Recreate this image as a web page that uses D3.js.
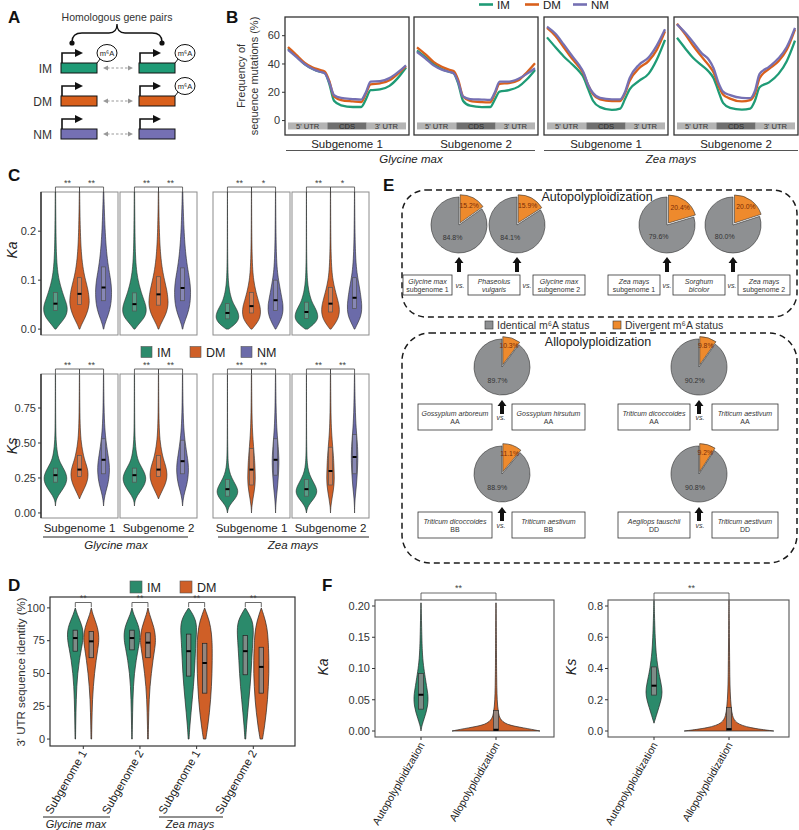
<!DOCTYPE html>
<html><head><meta charset="utf-8">
<script src="https://cdn.jsdelivr.net/npm/d3@7"></script>
<style>body{margin:0;background:#fff}svg{display:block;font-family:"Liberation Sans",Arial,Helvetica,sans-serif}</style>
</head><body><svg id="c" width="799" height="830"></svg>
<script>
// ================= DATA =================
const groups = ["IM","DM","NM"];
// Panel A: m6A presence on [left gene, right gene]
const aM6A = {IM:[true,true], DM:[false,true], NM:[false,false]};

// Panel B: mutation frequency (%) along gene body (fraction of length)
const bXFrac = [0,0.07,0.14,0.21,0.27,0.31,0.35,0.39,0.45,0.55,0.62,0.66,0.70,0.78,0.86,0.93,1.0];
const bGlyS1 = {
  IM:[51,45.5,40,36.5,34.5,33.8,26,14,10.8,9.6,9.6,15,21.5,22,24.5,30,37.5],
  DM:[52,46.5,41,37.5,35.8,34.7,28,17,14.5,13.5,13,19,25.5,26.3,28.5,33,38.5],
  NM:[50,45,40,36.5,34.5,33.5,27,18,16,15.2,14.8,20,27.5,27.8,30,34,39]};
const bGlyS2 = {
  IM:[49.5,45,40,36.5,34.5,33.5,26,14,10.5,9.5,9.6,15,20.5,21.5,24,29,35.8],
  DM:[51.8,47,41.5,38,36,35,28.5,17,14,13,12.8,19,26,26.5,28.5,34,40.5],
  NM:[48.5,44,39,36,34.5,33.5,27,17,15.2,14.8,14.6,20,27.5,27.5,29.5,33,37]};
const bZeaS1 = {
  IM:[58.8,52,45.5,40,35,30.5,22,14,9.5,7.5,8.5,15,22,28,33,43,57],
  DM:[65.5,60,52,44,38,33,25,18.5,15,13.8,13.8,19,28,37,42,50,63],
  NM:[66.4,61.5,54,46,39.5,34,25,19.5,16,15,15,20,30,39.5,44.5,53,64.5]};
const bZeaS2 = {
  IM:[58.5,51,44,39,34.5,30,21,12.5,9,7.8,8.5,14,23.5,27,33,42,56.5],
  DM:[68.5,61,52.5,45,39,34,25,18.5,15.5,13.5,14.5,19,30,36.5,42,50,64.5],
  NM:[68,62,55,47.5,43,37,27,20.5,18,16,15.8,21,33,38,44,52,65.5]};
const bSubLabels = ["Subgenome 1","Subgenome 2","Subgenome 1","Subgenome 2"];
const bRegions = ["5' UTR","CDS","3' UTR"];
const bTicks = [0,20,40,60];
const species = ["Glycine max","Zea mays"];

// Panel C: violin density profiles (relative width) on value grids; boxes [q1, median, q3]
const kaGrid = [0,0.01,0.02,0.03,0.04,0.05,0.06,0.08,0.10,0.12,0.15,0.20,0.28];
const kaGlyS1 = {IM:[0.05,0.35,0.7,0.93,1.0,0.95,0.8,0.52,0.3,0.17,0.08,0.04,0.015],
                 DM:[0.03,0.18,0.4,0.58,0.72,0.8,0.82,0.72,0.5,0.32,0.16,0.06,0.015],
                 NM:[0.02,0.1,0.25,0.4,0.52,0.6,0.65,0.68,0.6,0.45,0.27,0.12,0.02]};
const kaGlyS2 = {IM:[0.05,0.35,0.72,0.95,1.0,0.93,0.78,0.5,0.3,0.17,0.08,0.04,0.015],
                 DM:[0.03,0.18,0.4,0.6,0.73,0.8,0.8,0.7,0.5,0.33,0.17,0.06,0.015],
                 NM:[0.02,0.1,0.25,0.4,0.52,0.6,0.65,0.68,0.6,0.45,0.27,0.11,0.02]};
const kaZeaS1 = {IM:[0.1,0.65,0.95,0.95,0.78,0.55,0.35,0.15,0.07,0.04,0.02,0.01,0.005],
                 DM:[0.05,0.38,0.65,0.75,0.75,0.68,0.55,0.33,0.18,0.1,0.05,0.02,0.008],
                 NM:[0.03,0.25,0.45,0.58,0.63,0.62,0.55,0.4,0.25,0.14,0.07,0.03,0.008]};
const kaZeaS2 = {IM:[0.1,0.62,0.95,0.95,0.8,0.58,0.38,0.17,0.08,0.045,0.02,0.01,0.005],
                 DM:[0.05,0.35,0.6,0.72,0.75,0.7,0.6,0.38,0.2,0.11,0.05,0.02,0.008],
                 NM:[0.03,0.22,0.42,0.55,0.6,0.6,0.56,0.45,0.3,0.17,0.08,0.03,0.008]};
const kaBoxGlyS1 = {IM:[0.038,0.052,0.075], DM:[0.05,0.072,0.105], NM:[0.058,0.085,0.127]};
const kaBoxGlyS2 = {IM:[0.037,0.051,0.074], DM:[0.049,0.071,0.107], NM:[0.058,0.084,0.125]};
const kaBoxZeaS1 = {IM:[0.021,0.033,0.052], DM:[0.033,0.047,0.075], NM:[0.038,0.059,0.1]};
const kaBoxZeaS2 = {IM:[0.022,0.035,0.055], DM:[0.035,0.052,0.085], NM:[0.042,0.064,0.105]};
const kaStars = [["**","**"],["**","**"],["**","*"],["**","*"]];
const kaTicks = [0,0.1,0.2];

const ksGrid = [0,0.05,0.1,0.15,0.2,0.25,0.3,0.35,0.4,0.5,0.6,0.75,0.99];
const ksGlyS1 = {IM:[0,0,0.05,0.45,0.85,1.0,0.8,0.45,0.2,0.06,0.03,0.015,0.01],
                 DM:[0,0,0,0.25,0.55,0.72,0.72,0.55,0.35,0.14,0.06,0.025,0.01],
                 NM:[0,0,0.05,0.18,0.35,0.45,0.5,0.48,0.4,0.22,0.1,0.035,0.01]};
const ksGlyS2 = {IM:[0,0,0.05,0.45,0.85,1.0,0.78,0.43,0.2,0.06,0.03,0.015,0.01],
                 DM:[0,0,0,0.25,0.55,0.72,0.7,0.55,0.35,0.14,0.06,0.025,0.01],
                 NM:[0,0,0.05,0.18,0.35,0.45,0.5,0.48,0.4,0.22,0.1,0.035,0.01]};
const ksZeaS1 = {IM:[0,0.1,0.65,0.95,0.7,0.35,0.15,0.07,0.04,0.02,0.012,0.008,0.005],
                 DM:[0,0.03,0.12,0.22,0.3,0.32,0.3,0.28,0.24,0.15,0.07,0.03,0.01],
                 NM:[0,0.02,0.06,0.12,0.18,0.22,0.26,0.28,0.28,0.2,0.1,0.04,0.01]};
const ksZeaS2 = {IM:[0,0.1,0.62,0.95,0.72,0.38,0.16,0.08,0.04,0.02,0.012,0.008,0.005],
                 DM:[0,0.03,0.12,0.22,0.3,0.32,0.3,0.28,0.25,0.16,0.07,0.03,0.01],
                 NM:[0,0.01,0.04,0.1,0.16,0.2,0.24,0.26,0.28,0.24,0.13,0.05,0.01]};
const ksBoxGlyS1 = {IM:[0.22,0.27,0.32], DM:[0.26,0.31,0.41], NM:[0.28,0.38,0.53]};
const ksBoxGlyS2 = {IM:[0.22,0.27,0.32], DM:[0.26,0.31,0.41], NM:[0.28,0.37,0.52]};
const ksBoxZeaS1 = {IM:[0.12,0.17,0.24], DM:[0.2,0.31,0.46], NM:[0.27,0.38,0.53]};
const ksBoxZeaS2 = {IM:[0.12,0.17,0.24], DM:[0.2,0.30,0.47], NM:[0.28,0.40,0.56]};
const ksStars = [["**","**"],["**","**"],["**","**"],["**","**"]];
const ksTicks = [0,0.25,0.5,0.75];

// Panel D: 3' UTR identity
const dGroups = ["IM","DM"];
const dCats = ["Gly1","Gly2","Zea1","Zea2"];
const dCatLabels = ["Subgenome 1","Subgenome 2","Subgenome 1","Subgenome 2"];
const dGrid = [0,10,20,30,40,50,60,70,75,80,85,90,95,100];
const dGly1 = {IM:[0.03,0.05,0.08,0.12,0.18,0.3,0.5,0.8,0.95,1.0,0.9,0.6,0.25,0],
               DM:[0.04,0.06,0.1,0.15,0.25,0.4,0.6,0.85,0.95,0.92,0.78,0.5,0.2,0]};
const dGly2 = {IM:[0.03,0.05,0.08,0.12,0.18,0.3,0.52,0.82,0.97,1.0,0.88,0.58,0.22,0],
               DM:[0.04,0.06,0.1,0.15,0.25,0.42,0.62,0.88,0.95,0.9,0.75,0.48,0.2,0]};
const dZea1 = {IM:[0.05,0.15,0.3,0.45,0.6,0.72,0.8,0.88,0.92,0.97,1.0,0.9,0.55,0],
               DM:[0.15,0.4,0.6,0.75,0.85,0.92,0.95,0.95,0.92,0.86,0.75,0.58,0.3,0]};
const dZea2 = {IM:[0.05,0.15,0.3,0.45,0.6,0.72,0.8,0.9,0.95,1.0,1.0,0.88,0.5,0],
               DM:[0.15,0.42,0.62,0.78,0.88,0.95,0.95,0.9,0.86,0.8,0.7,0.52,0.28,0]};
const dBoxes = {Gly1:{IM:[67,77,83],DM:[62,74.5,82]}, Gly2:{IM:[68,77,83],DM:[62,73.5,81]},
                Zea1:{IM:[48,67,80],DM:[35,58,73]}, Zea2:{IM:[49,67,79],DM:[35,55,70]}};
const dTicks = [0,25,50,75,100];

// Panel E: divergent m6A status (%)
const autoDiv = [15.2,15.9,20.4,20.0];
const alloDiv = [10.3,9.8,11.1,9.2];
const autoBoxes = [["Glycine max","subgenome 1",false],["Phaseolus","vulgaris",true],["Glycine max","subgenome 2",false],
                   ["Zea mays","subgenome 1",false],["Sorghum","bicolor",true],["Zea mays","subgenome 2",false]];
const alloBoxes = [["Gossypium arboreum","AA"],["Gossypium hirsutum","AA"],["Triticum dicoccoides","AA"],["Triticum aestivum","AA"],
                   ["Triticum dicoccoides","BB"],["Triticum aestivum","BB"],["Aegilops tauschii","DD"],["Triticum aestivum","DD"]];

// Panel F
const fCats = ["Autopolyploidization","Allopolyploidization"];
const fKaGrid = [0,0.005,0.01,0.02,0.03,0.04,0.05,0.06,0.07,0.08,0.1,0.12,0.15,0.205];
const fKaAuto = [0,0.06,0.15,0.4,0.65,0.82,0.9,0.85,0.72,0.6,0.35,0.18,0.1,0.02];
const fKaAllo = [5.5,3.5,1.2,0.45,0.3,0.2,0.15,0.12,0.1,0.09,0.07,0.06,0.05,0.02];
const fKsGrid = [0,0.02,0.05,0.1,0.15,0.2,0.25,0.3,0.35,0.4,0.5,0.6,0.7,0.835];
const fKsAuto = [0,0,0,0.3,0.6,0.9,1.05,0.9,0.7,0.5,0.25,0.15,0.08,0.02];
const fKsAllo = [5.6,2.5,0.8,0.4,0.28,0.2,0.15,0.12,0.1,0.09,0.07,0.05,0.04,0.02];
const fKaBox = {Auto:[0.035,0.058,0.092], Allo:[0.001,0.002,0.033]};
const fKsBox = {Auto:[0.23,0.29,0.41], Allo:[0.003,0.012,0.15]};
const fKaTicks = [0,0.05,0.1,0.15,0.2];
const fKsTicks = [0,0.2,0.4,0.6,0.8];

// ================= STYLE =================
const lineCol = {IM:"#1f9b76", DM:"#d9601c", NM:"#7570b3"};
const vCol = {IM:"#2b8a6b", DM:"#cf5f27", NM:"#6b6ba9"};
const svg = d3.select("#c");

function T(g,x,y,s,o={}){
  const t=g.append("text").attr("x",x).attr("y",y).text(s)
    .attr("font-size",o.size||11).attr("fill",o.fill||"#222")
    .attr("text-anchor",o.anchor||"start");
  if(o.italic) t.attr("font-style","italic");
  if(o.bold) t.attr("font-weight","bold");
  if(o.rotate!=null) t.attr("transform",`rotate(${o.rotate},${x},${y})`);
  return t;
}
function violin(g,cx,ys,grid,w,half,fill,sw){
  let pts=grid.map((v,i)=>[v,w[i]]);
  let s=0; while(s<pts.length-1 && pts[s][1]===0 && pts[s+1][1]===0) s++;
  pts=pts.slice(s);
  const area=d3.area().curve(d3.curveBasis)
    .y(d=>ys(d[0])).x0(d=>cx-d[1]*half).x1(d=>cx+d[1]*half);
  g.append("path").attr("d",area(pts)).attr("fill",fill)
   .attr("stroke","#262626").attr("stroke-width",sw||0.6);
}
function boxplot(g,cx,ys,b,bw,fill,stroke){
  g.append("rect").attr("x",cx-bw/2).attr("width",bw).attr("y",ys(b[2])).attr("height",ys(b[0])-ys(b[2]))
   .attr("fill",fill).attr("stroke",stroke).attr("stroke-width",0.7);
  g.append("line").attr("x1",cx-bw/2).attr("x2",cx+bw/2).attr("y1",ys(b[1])).attr("y2",ys(b[1]))
   .attr("stroke","#000").attr("stroke-width",2);
}
function yAxis(g,x,ys,ticks,fmt,size){
  ticks.forEach(t=>{
    g.append("line").attr("x1",x-3).attr("x2",x).attr("y1",ys(t)).attr("y2",ys(t)).attr("stroke","#333");
    T(g,x-5,ys(t)+3.8,fmt(t),{size:size||11,anchor:"end",fill:"#333"});
  });
}
function bracket(g,x1,x2,y,yb,star,sy){
  g.append("path").attr("d",`M${x1},${yb}V${y}H${x2}V${yb}`).attr("fill","none").attr("stroke","#444").attr("stroke-width",0.8);
  T(g,(x1+x2)/2,sy,star,{size:9,anchor:"middle",fill:"#444"});
}

// ================= PANEL LETTERS =================
[["A",8,23],["B",226,23],["C",8,181],["D",8,591],["E",383,191],["F",322,591]]
  .forEach(l=>T(svg,l[1],l[2],l[0],{size:17,bold:true,fill:"#111"}));

// ================= PANEL A =================
{
  const g=svg.append("g");
  T(g,117,21,"Homologous gene pairs",{size:10.5,anchor:"middle",fill:"#333"});
  g.append("path").attr("d","M72,42 Q72,33 82,33 L109,33 Q117,33 117,24 Q117,33 125,33 L152,33 Q162,33 162,42")
   .attr("fill","none").attr("stroke","#111").attr("stroke-width",1.3);
  [72,162].forEach(x=>g.append("circle").attr("cx",x).attr("cy",43).attr("r",2.6).attr("fill","#111"));
  const rowTop={IM:63,DM:96,NM:129};
  groups.forEach(k=>{
    const top=rowTop[k];
    T(g,52,top+10,k,{size:12,anchor:"end",fill:"#333"});
    [61,139].forEach((bx,j)=>{
      g.append("rect").attr("x",bx).attr("y",top).attr("width",36).attr("height",10)
        .attr("fill",lineCol[k]).attr("stroke","#111").attr("stroke-width",1);
      g.append("path").attr("d",`M${bx+1},${top} V${top-10} H${bx+15}`).attr("fill","none").attr("stroke","#111").attr("stroke-width",1.6);
      g.append("path").attr("d",`M${bx+14},${top-14} L${bx+22},${top-10} L${bx+14},${top-6} Z`).attr("fill","#111");
      if(aM6A[k][j]){
        g.append("line").attr("x1",bx+36).attr("y1",top).attr("x2",bx+39.5).attr("y2",top-4.5).attr("stroke","#111").attr("stroke-width",1);
        g.append("ellipse").attr("cx",bx+46).attr("cy",top-10).attr("rx",10).attr("ry",8.5)
          .attr("fill","#fff").attr("stroke","#111").attr("stroke-width",1);
        T(g,bx+46,top-7.5,"m⁶A",{size:7.5,anchor:"middle",fill:"#222"});
      }
    });
    const cy=top+5;
    g.append("line").attr("x1",107).attr("x2",129).attr("y1",cy).attr("y2",cy)
      .attr("stroke","#999").attr("stroke-width",1.1).attr("stroke-dasharray","2.5,2");
    g.append("path").attr("d",`M103,${cy} L108,${cy-2.5} L108,${cy+2.5}Z M133,${cy} L128,${cy-2.5} L128,${cy+2.5}Z`).attr("fill","#999");
  });
}

// ================= PANEL B =================
{
  const g=svg.append("g");
  const bLeft=[285,414,544,674], bW=124, bTop=17, bBot=135;
  const by=d3.scaleLinear().domain([-10.2,73.2]).range([bBot,bTop]);
  [bGlyS1,bGlyS2,bZeaS1,bZeaS2].forEach((pd,i)=>{
    const x=d3.scaleLinear().domain([0,1]).range([bLeft[i]+3,bLeft[i]+bW-3]);
    g.append("rect").attr("x",bLeft[i]).attr("y",bTop).attr("width",bW).attr("height",bBot-bTop)
      .attr("fill","#fff").attr("stroke","#333").attr("stroke-width",1.3);
    bRegions.forEach((r,j)=>{
      const x0=x(j/3),x1=x((j+1)/3);
      g.append("rect").attr("x",x0).attr("width",x1-x0).attr("y",by(-3.8)-3.5).attr("height",7)
        .attr("fill",j===1?"#6f6f6f":"#b4b4b4");
      T(g,(x0+x1)/2,by(-3.8)+2.8,r,{size:7.6,anchor:"middle",fill:j===1?"#2a2a2a":"#333"});
    });
    groups.forEach(k=>{
      g.append("path").attr("d",d3.line().x((d,j)=>x(bXFrac[j])).y(d=>by(d)).curve(d3.curveMonotoneX)(pd[k]))
        .attr("fill","none").attr("stroke",lineCol[k]).attr("stroke-width",2.3);
    });
    T(g,bLeft[i]+bW/2,147.5,bSubLabels[i],{size:11.5,anchor:"middle",fill:"#222"});
  });
  yAxis(g,bLeft[0],by,bTicks,d=>String(d),11);
  T(g,245,76,"Frequency of",{size:11,anchor:"middle",rotate:-90,fill:"#333"});
  T(g,258,76,"sequence mutations (%)",{size:11,anchor:"middle",rotate:-90,fill:"#333"});
  g.append("line").attr("x1",286).attr("x2",535).attr("y1",150.5).attr("y2",150.5).attr("stroke","#555");
  g.append("line").attr("x1",544).attr("x2",798).attr("y1",150.5).attr("y2",150.5).attr("stroke","#555");
  T(g,411,163,species[0],{size:11.5,anchor:"middle",italic:true,fill:"#222"});
  T(g,671,163,species[1],{size:11.5,anchor:"middle",italic:true,fill:"#222"});
  const lx=[479,525,573];
  groups.forEach((k,i)=>{
    g.append("line").attr("x1",lx[i]).attr("x2",lx[i]+14).attr("y1",4.5).attr("y2",4.5).attr("stroke",lineCol[k]).attr("stroke-width",2.6);
    T(g,lx[i]+18,8.8,k,{size:11.5,fill:"#222"});
  });
}

// ================= PANEL C =================
{
  const g=svg.append("g");
  const cLeft=[41,120,213,292], cW=77;
  const rows=[
    {grid:kaGrid, data:[kaGlyS1,kaGlyS2,kaZeaS1,kaZeaS2], box:[kaBoxGlyS1,kaBoxGlyS2,kaBoxZeaS1,kaBoxZeaS2],
     stars:kaStars, top:192, bot:335, dom:[-0.012,0.28], ticks:kaTicks, fmt:d3.format(".1f"), lab:"Ka", laby:250, by:187, sy:186},
    {grid:ksGrid, data:[ksGlyS1,ksGlyS2,ksZeaS1,ksZeaS2], box:[ksBoxGlyS1,ksBoxGlyS2,ksBoxZeaS1,ksBoxZeaS2],
     stars:ksStars, top:374, bot:518, dom:[-0.036,0.993], ticks:ksTicks, fmt:d3.format(".2f"), lab:"Ks", laby:446, by:369, sy:368}
  ];
  rows.forEach(r=>{
    const ys=d3.scaleLinear().domain(r.dom).range([r.bot,r.top]);
    cLeft.forEach((L,i)=>{
      const xs=d3.scalePoint().domain(groups).range([L,L+cW]).padding(0.6);
      g.append("rect").attr("x",L).attr("y",r.top).attr("width",cW).attr("height",r.bot-r.top)
        .attr("fill","#fff").attr("stroke","#8c8c8c").attr("stroke-width",1);
      groups.forEach(k=>{
        violin(g,xs(k),ys,r.grid,r.data[i][k],12,vCol[k],0.6);
        boxplot(g,xs(k),ys,r.box[i][k],4,"rgba(220,220,220,0.25)","#555");
      });
      bracket(g,xs("IM"),xs("DM"),r.by,r.top,r.stars[i][0],r.sy);
      bracket(g,xs("DM"),xs("NM"),r.by,r.top,r.stars[i][1],r.sy);
    });
    g.append("line").attr("x1",41).attr("x2",41).attr("y1",r.top).attr("y2",r.bot).attr("stroke","#111").attr("stroke-width",1.2);
    yAxis(g,41,ys,r.ticks,r.fmt,11);
    T(g,17,r.laby,r.lab,{size:14,anchor:"middle",italic:true,rotate:-90,fill:"#222"});
  });
  const lgx=[141,190,241];
  groups.forEach((k,i)=>{
    g.append("rect").attr("x",lgx[i]).attr("y",346.5).attr("width",11).attr("height",11)
      .attr("fill",vCol[k]).attr("stroke","#555").attr("stroke-width",0.6);
    T(g,lgx[i]+16,356.5,k,{size:12.5,fill:"#222"});
  });
  cLeft.forEach((L,i)=>T(g,L+cW/2,532,bSubLabels[i],{size:11.5,anchor:"middle",fill:"#222"}));
  g.append("line").attr("x1",43).attr("x2",188).attr("y1",537).attr("y2",537).attr("stroke","#222");
  g.append("line").attr("x1",218).attr("x2",369).attr("y1",537).attr("y2",537).attr("stroke","#222");
  T(g,116,549,species[0],{size:11.5,anchor:"middle",italic:true,fill:"#222"});
  T(g,293,549,species[1],{size:11.5,anchor:"middle",italic:true,fill:"#222"});
}

// ================= PANEL D =================
{
  const g=svg.append("g");
  const L=50,R=295,top=597,bot=746;
  const ys=d3.scaleLinear().domain([-5.3,108.3]).range([bot,top]);
  const xs=d3.scalePoint().domain(dCats).range([83.3,253.3]);
  g.append("rect").attr("x",L).attr("y",top).attr("width",R-L).attr("height",bot-top)
    .attr("fill","#fff").attr("stroke","#333").attr("stroke-width",1.2);
  const dd={Gly1:dGly1,Gly2:dGly2,Zea1:dZea1,Zea2:dZea2};
  dCats.forEach((c,i)=>{
    dGroups.forEach((k,j)=>{
      const cx=xs(c)+(j===0?-8:8);
      violin(g,cx,ys,dGrid,dd[c][k],8,vCol[k],0.7);
      boxplot(g,cx,ys,dBoxes[c][k],4.5,"rgba(140,140,140,0.85)","#222");
    });
    bracket(g,xs(c)-8,xs(c)+8,602.5,607,"**",600.5);
    g.append("line").attr("x1",xs(c)).attr("x2",xs(c)).attr("y1",bot).attr("y2",bot+3).attr("stroke","#333");
    T(g,xs(c)+4,bot+7,dCatLabels[i],{size:11.5,anchor:"end",rotate:-60,fill:"#222"});
  });
  yAxis(g,L,ys,dTicks,d=>String(d),11);
  T(g,25,672,"3' UTR sequence identity (%)",{size:11.5,anchor:"middle",rotate:-90,fill:"#333"});
  g.append("line").attr("x1",43).attr("x2",110).attr("y1",817).attr("y2",817).attr("stroke","#222");
  g.append("line").attr("x1",159).attr("x2",223).attr("y1",817).attr("y2",817).attr("stroke","#222");
  T(g,76,828,species[0],{size:11,anchor:"middle",italic:true,fill:"#222"});
  T(g,190,828,species[1],{size:11,anchor:"middle",italic:true,fill:"#222"});
  [[130,"IM"],[180,"DM"]].forEach(([x,k])=>{
    g.append("rect").attr("x",x).attr("y",581).attr("width",12).attr("height",12)
      .attr("fill",vCol[k]).attr("stroke","#555").attr("stroke-width",0.6);
    T(g,x+17,591.5,k,{size:12.5,fill:"#222"});
  });
}

// ================= PANEL E =================
{
  const g=svg.append("g");
  const ink="#1a1a1a";
  g.append("rect").attr("x",402).attr("y",190).attr("width",395).attr("height",127).attr("rx",24)
    .attr("fill","none").attr("stroke",ink).attr("stroke-width",1.5).attr("stroke-dasharray","6,4");
  g.append("rect").attr("x",402).attr("y",333).attr("width",395).attr("height",230).attr("rx",28)
    .attr("fill","none").attr("stroke",ink).attr("stroke-width",1.5).attr("stroke-dasharray","6,4");
  T(g,597,201,"Autopolyploidization",{size:12.5,anchor:"middle",fill:"#222"});
  T(g,598,346,"Allopolyploidization",{size:12.5,anchor:"middle",fill:"#222"});
  const pieGen=d3.pie().sort(null).value(d=>d);
  function pie(cx,cy,div){
    const r=28;
    const arcs=pieGen([div,100-div]);
    const arc=d3.arc().innerRadius(0).outerRadius(r);
    const o=arcs[0], mid=(o.startAngle+o.endAngle)/2, off=2.5;
    g.append("path").attr("d",arc(arcs[1])).attr("transform",`translate(${cx},${cy})`)
      .attr("fill","#8e9092").attr("stroke","#333").attr("stroke-width",0.6);
    g.append("path").attr("d",arc(o)).attr("transform",`translate(${cx+Math.sin(mid)*off},${cy-Math.cos(mid)*off})`)
      .attr("fill","#ee8a2d").attr("stroke","#333").attr("stroke-width",0.6);
    const c1=d3.arc().innerRadius(r*0.45).outerRadius(r*0.95).centroid(o);
    T(g,cx+c1[0]+off*Math.sin(mid),cy+c1[1]-off*Math.cos(mid)+2.3,d3.format(".1f")(div)+"%",{size:6.8,anchor:"middle",fill:"#7a2a06"});
    const c2=d3.arc().innerRadius(0).outerRadius(r).centroid(arcs[1]);
    T(g,cx+c2[0],cy+c2[1]+2.5,d3.format(".1f")(100-div)+"%",{size:7,anchor:"middle",fill:"#333"});
  }
  function upArrow(x,y0,y1){
    g.append("path").attr("d",`M${x-4.5},${y0+6} L${x},${y0} L${x+4.5},${y0+6} L${x+2},${y0+6} L${x+2},${y1} L${x-2},${y1} L${x-2},${y0+6} Z`).attr("fill","#111");
  }
  function nameBox(x0,x1,y0,y1,l1,l2,it2){
    g.append("rect").attr("x",x0).attr("y",y0).attr("width",x1-x0).attr("height",y1-y0)
      .attr("fill","#fff").attr("stroke","#333").attr("stroke-width",0.8);
    const cx=(x0+x1)/2, cy=(y0+y1)/2;
    T(g,cx,cy-1,l1,{size:7,anchor:"middle",italic:true,fill:"#333"});
    T(g,cx,cy+7,l2,{size:7,anchor:"middle",italic:!!it2,fill:"#333"});
  }
  // autopolyploidization
  const autoPieX=[459,517,667,733];
  autoDiv.forEach((d,i)=>{ pie(autoPieX[i],225,d); upArrow(autoPieX[i],257,272); });
  const autoBx=[[403,452],[468,520],[533,585],[608,660],[673,725],[738,790]];
  autoBoxes.forEach((b,i)=>nameBox(autoBx[i][0],autoBx[i][1],275,295,b[0],b[1],b[2]));
  [460,527,667,732].forEach(x=>T(g,x,288,"vs.",{size:7,anchor:"middle",italic:true,fill:"#333"}));
  // legend
  g.append("rect").attr("x",485).attr("y",321).attr("width",8).attr("height",8).attr("fill","#8e9092").attr("stroke","#333").attr("stroke-width",0.6);
  T(g,497,329,"Identical m⁶A status",{size:10.5,fill:"#333"});
  g.append("rect").attr("x",613).attr("y",321).attr("width",8).attr("height",8).attr("fill","#ee8a2d").attr("stroke","#333").attr("stroke-width",0.6);
  T(g,625,329,"Divergent m⁶A status",{size:10.5,fill:"#333"});
  // allopolyploidization
  const alloPieX=[502,699,502,699], alloPieY=[367,367,474,474];
  alloDiv.forEach((d,i)=>{ pie(alloPieX[i],alloPieY[i],d); upArrow(alloPieX[i],alloPieY[i]+33,alloPieY[i]+47); });
  const alloBx=[[418,492],[512,585],[618,690],[712,778]];
  const rowY=[[404,430],[512,538]];
  alloBoxes.forEach((b,i)=>{
    const row=i<4?0:1, col=(i%4);
    const bx=alloBx[col];
    nameBox(bx[0],bx[1],rowY[row][0],rowY[row][1],b[0],b[1],false);
  });
  [0,1].forEach(row=>[501,700].forEach(x=>T(g,x,rowY[row][0]+16,"vs.",{size:7,anchor:"middle",italic:true,fill:"#333"})));
}

// ================= PANEL F =================
{
  const g=svg.append("g");
  const panels=[
    {L:375,R:554,dom:[-0.0096,0.2096],grid:fKaGrid,w:{Auto:fKaAuto,Allo:fKaAllo},box:fKaBox,ticks:fKaTicks,fmt:d3.format(".2f"),lab:"Ka",lx:328},
    {L:608,R:789,dom:[-0.0384,0.8384],grid:fKsGrid,w:{Auto:fKsAuto,Allo:fKsAllo},box:fKsBox,ticks:fKsTicks,fmt:d3.format(".1f"),lab:"Ks",lx:576}
  ];
  const top=600,bot=737;
  panels.forEach(p=>{
    const ys=d3.scaleLinear().domain(p.dom).range([bot,top]);
    const xs=d3.scalePoint().domain(fCats).range([p.L+46,p.L+121]);
    g.append("rect").attr("x",p.L).attr("y",top).attr("width",p.R-p.L).attr("height",bot-top)
      .attr("fill","#fff").attr("stroke","#555").attr("stroke-width",1.1);
    const keys=["Auto","Allo"];
    fCats.forEach((c,i)=>{
      const k=keys[i];
      violin(g,xs(c),ys,p.grid,p.w[k],8,i===0?vCol.IM:vCol.DM,0.7);
      boxplot(g,xs(c),ys,p.box[k],5,"rgba(140,140,140,0.85)","#333");
      g.append("line").attr("x1",xs(c)).attr("x2",xs(c)).attr("y1",bot).attr("y2",bot+3).attr("stroke","#333");
      T(g,xs(c)+4,bot+8,c,{size:10.5,anchor:"end",rotate:-60,fill:"#222"});
    });
    bracket(g,xs(fCats[0]),xs(fCats[1]),593,600,"**",591);
    yAxis(g,p.L,ys,p.ticks,p.fmt,11);
    T(g,p.lx,667,p.lab,{size:14,anchor:"middle",italic:true,rotate:-90,fill:"#222"});
  });
}
</script></body></html>
